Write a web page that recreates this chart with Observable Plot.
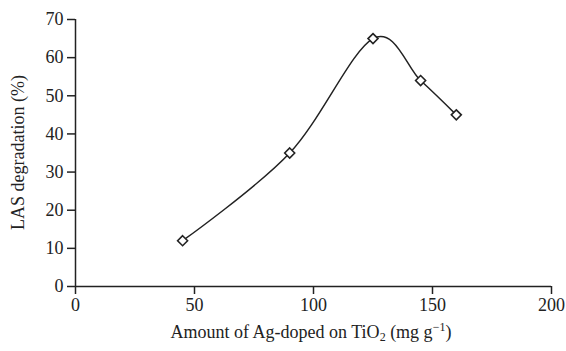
<!DOCTYPE html>
<html>
<head>
<meta charset="utf-8">
<script src="https://cdn.jsdelivr.net/npm/d3@7"></script>
<script src="https://cdn.jsdelivr.net/npm/@observablehq/plot@0.6"></script>
<style>
  html, body { margin: 0; padding: 0; background: #fff; }
  #chart svg { display: block; }
</style>
</head>
<body>
<div id="chart"></div>
<script>
const agAmount = [45, 90, 125, 145, 160];
const lasDegradation = [12, 35, 65, 54, 45];
const xTicks = [0, 50, 100, 150, 200];
const yTicks = [0, 10, 20, 30, 40, 50, 60, 70];

const data = agAmount.map((x, i) => ({x, y: lasDegradation[i]}));

const font = "Liberation Serif, Times New Roman, serif";
const ink = "#222";
const fs = 18;

const chart = Plot.plot({
  width: 566,
  height: 351,
  marginLeft: 75,
  marginRight: 15,
  marginTop: 19,
  marginBottom: 65,
  style: {fontFamily: font, fontSize: fs + "px", color: ink, background: "#fff"},
  x: {domain: [0, 200], ticks: xTicks},
  y: {domain: [0, 70], ticks: yTicks},
  marks: [
    Plot.axisX({ticks: xTicks, tickSize: 8, tickPadding: 4, label: null, stroke: ink, strokeWidth: 1.5, fontSize: fs, fill: ink}),
    Plot.axisY({ticks: yTicks, tickSize: 8, tickPadding: 4, label: null, stroke: ink, strokeWidth: 1.5, fontSize: fs, fill: ink}),
    Plot.ruleY([0], {stroke: ink, strokeWidth: 1.5}),
    Plot.ruleX([0], {stroke: ink, strokeWidth: 1.5}),
    Plot.line(data, {x: "x", y: "y", curve: "cardinal", stroke: ink, strokeWidth: 1.5}),
    Plot.dot(data, {x: "x", y: "y", symbol: "diamond2", r: 4.5, fill: "white", stroke: ink, strokeWidth: 1.6})
  ]
});

const svg = d3.select(chart);

// axis titles with sub/superscripts
const xt = svg.append("text")
  .attr("x", 311)
  .attr("y", 338)
  .attr("text-anchor", "middle")
  .attr("font-family", font)
  .attr("font-size", fs)
  .attr("fill", ink);
xt.append("tspan").text("Amount of Ag-doped on TiO");
xt.append("tspan").attr("font-size", 12).attr("dy", 3).text("2");
xt.append("tspan").attr("dy", -3).text(" (mg g");
xt.append("tspan").attr("font-size", 12).attr("dy", -7).text("\u22121");
xt.append("tspan").attr("dy", 7).text(")");

svg.append("text")
  .attr("transform", `translate(24, ${(19 + 286) / 2}) rotate(-90)`)
  .attr("text-anchor", "middle")
  .attr("font-family", font)
  .attr("font-size", fs)
  .attr("fill", ink)
  .text("LAS degradation (%)");

document.getElementById("chart").appendChild(chart);
</script>
</body>
</html>
